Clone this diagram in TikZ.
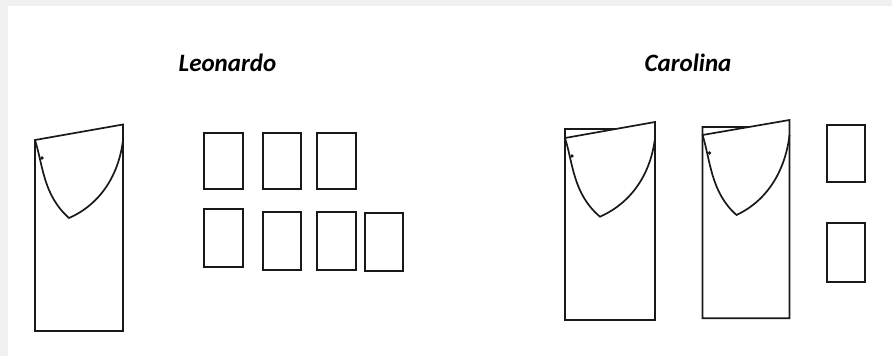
\documentclass[tikz,border=0pt]{standalone}
\usepackage{fontspec}
\newfontfamily\labfont{Carlito}
\definecolor{bgc}{HTML}{F0F0F0}
\begin{document}
\begin{tikzpicture}[x=1pt,y=-1pt,
  outline/.style={line width=1.7pt, draw=black!90, line join=miter},
  titletext/.style={anchor=base, inner sep=0pt, font=\labfont\fontsize{25}{30}\selectfont\bfseries\itshape}]
\fill[bgc] (0,0) rectangle (892,356);
\fill[white] (8,6) rectangle (892,356);
\useasboundingbox (0,0) rectangle (892,356);

% titles
\node[titletext] (leo) at (227.5,71) {Leonardo};
\node[titletext] (caro) at (688,71) {Carolina};

% Leonardo garment
\begin{scope}[shift={(35,140)}]
  \draw[outline] (88,-15.5) -- (0,0) -- (0,191) -- (88,191) -- cycle;
  \draw[outline] (0,0) .. controls (8,25) and (8,55) .. (34,78)
                 .. controls (66,64) and (84,34) .. (88,0);
  \fill[black!90] (7,18) circle (1.8);
\end{scope}

% Leonardo small pieces
\draw[outline] (204.3,132.7) rectangle (243.3,189.3);
\draw[outline] (262.7,132.7) rectangle (300.7,189.3);
\draw[outline] (317.3,132.7) rectangle (355.7,189.3);
\draw[outline] (204.3,209.3) rectangle (243.3,267.3);
\draw[outline] (262.7,212.3) rectangle (300.7,270);
\draw[outline] (317.3,212.3) rectangle (355.7,270);
\draw[outline] (365,213.3) rectangle (403.3,270.7);

% Carolina garment 1
\begin{scope}[shift={(565,138)}]
  \draw[outline] (0,0) -- (90,-16) -- (90,182) -- (0,182) -- (0,-9) -- (50.6,-9);
  \draw[outline] (0,0) .. controls (8,25) and (8,56) .. (35,78.7)
                 .. controls (68,64) and (86,34) .. (90,0);
  \fill[black!90] (7,18) circle (1.8);
\end{scope}

% Carolina garment 2
\begin{scope}[shift={(702.5,135)}]
  \draw[outline] (0,0) -- (87,-15) -- (87,183.3) -- (0,183.3) -- (0,-8) -- (46.4,-8);
  \draw[outline] (0,0) .. controls (8,25) and (8,57) .. (34,80)
                 .. controls (66,65) and (83,34) .. (87,0);
  \fill[black!90] (7,18) circle (1.8);
\end{scope}

% Carolina small pieces
\draw[outline] (826.7,125) rectangle (865,182.3);
\draw[outline] (826.7,223.3) rectangle (865,281.7);
\end{tikzpicture}
\end{document}
